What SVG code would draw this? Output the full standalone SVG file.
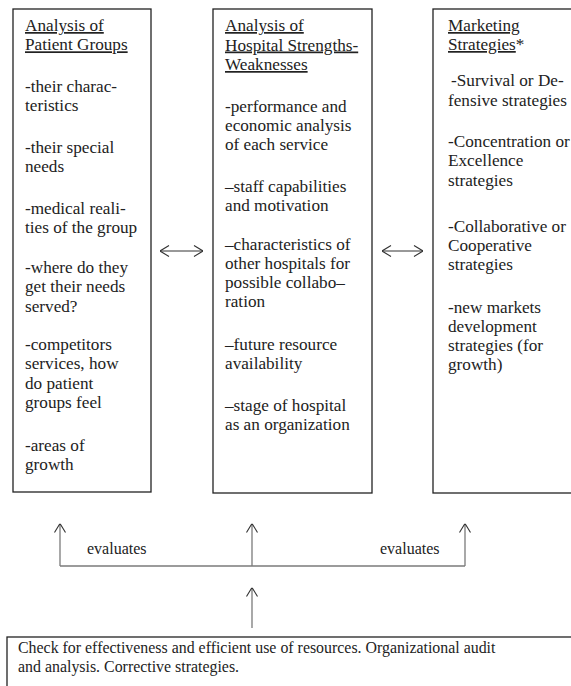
<svg xmlns="http://www.w3.org/2000/svg" width="571" height="686" viewBox="0 0 571 686">
<style>
  .box { fill: #fff; stroke: #222; stroke-width: 1.3; }
  .t { font-family: "Liberation Serif", "Times New Roman", serif; font-size: 17.2px; fill: #222; }
  .u { text-decoration: underline; }
  .lbl { font-family: "Liberation Serif", "Times New Roman", serif; font-size: 16px; fill: #222; }
  .conn { fill: none; stroke: #7a7a7a; stroke-width: 1.3; }
  .dbl { fill: none; stroke: #333; stroke-width: 1; }
</style>
<defs>
  <marker id="open" viewBox="0 0 10 12" refX="10" refY="6" markerWidth="10" markerHeight="12" markerUnits="userSpaceOnUse" orient="auto-start-reverse">
    <path d="M1,0.5 L10,6 L1,11.5" fill="none" stroke="#333" stroke-width="1.1"/>
  </marker>
</defs>
<rect width="571" height="686" fill="#fff"/>

<g id="patient-groups">
  <rect class="box" x="13" y="9" width="138" height="483"/>
  <text class="t" x="25">
    <tspan class="u" x="25" y="31">Analysis of</tspan>
    <tspan class="u" x="25" y="50.3">Patient Groups</tspan>
    <tspan x="25" y="92">-their charac-</tspan>
    <tspan x="25" y="111.3">teristics</tspan>
    <tspan x="25" y="153">-their special</tspan>
    <tspan x="25" y="172.3">needs</tspan>
    <tspan x="25" y="214">-medical reali-</tspan>
    <tspan x="25" y="233.3">ties of the group</tspan>
    <tspan x="25" y="273">-where do they</tspan>
    <tspan x="25" y="292.3">get their needs</tspan>
    <tspan x="25" y="311.6">served?</tspan>
    <tspan x="25" y="350">-competitors</tspan>
    <tspan x="25" y="369.3">services, how</tspan>
    <tspan x="25" y="388.6">do patient</tspan>
    <tspan x="25" y="408">groups feel</tspan>
    <tspan x="25" y="451">-areas of</tspan>
    <tspan x="25" y="470.3">growth</tspan>
  </text>
</g>

<g id="hospital-strengths">
  <rect class="box" x="213" y="9" width="159" height="484"/>
  <text class="t">
    <tspan class="u" x="225" y="31">Analysis of</tspan>
    <tspan class="u" x="225" y="50.5">Hospital Strengths-</tspan>
    <tspan class="u" x="225" y="70">Weaknesses</tspan>
    <tspan x="225" y="112">-performance and</tspan>
    <tspan x="225" y="131">economic analysis</tspan>
    <tspan x="225" y="150">of each service</tspan>
    <tspan x="225" y="192">–staff capabilities</tspan>
    <tspan x="225" y="211">and motivation</tspan>
    <tspan x="225" y="250">–characteristics of</tspan>
    <tspan x="225" y="269">other hospitals for</tspan>
    <tspan x="225" y="288">possible collabo–</tspan>
    <tspan x="225" y="307">ration</tspan>
    <tspan x="225" y="350">–future resource</tspan>
    <tspan x="225" y="369">availability</tspan>
    <tspan x="225" y="411">–stage of hospital</tspan>
    <tspan x="225" y="430">as an organization</tspan>
  </text>
</g>

<g id="marketing-strategies">
  <rect class="box" x="433" y="9" width="150" height="484"/>
  <text class="t">
    <tspan class="u" x="448" y="31">Marketing</tspan>
    <tspan x="448" y="50"><tspan class="u">Strategies</tspan>*</tspan>
    <tspan x="451" y="86">-Survival or De-</tspan>
    <tspan x="448" y="105.5">fensive strategies</tspan>
    <tspan x="448" y="147">-Concentration or</tspan>
    <tspan x="448" y="166.3">Excellence</tspan>
    <tspan x="448" y="185.6">strategies</tspan>
    <tspan x="448" y="232">-Collaborative or</tspan>
    <tspan x="448" y="251">Cooperative</tspan>
    <tspan x="448" y="270">strategies</tspan>
    <tspan x="448" y="313">-new markets</tspan>
    <tspan x="448" y="332">development</tspan>
    <tspan x="448" y="351">strategies (for</tspan>
    <tspan x="448" y="370">growth)</tspan>
  </text>
</g>

<g id="check-effectiveness">
  <rect class="box" x="7" y="637" width="580" height="60"/>
  <text class="t" style="font-size:15.9px">
    <tspan x="18" y="653">Check for effectiveness and efficient use of resources. Organizational audit</tspan>
    <tspan x="18" y="672">and analysis. Corrective strategies.</tspan>
  </text>
</g>

<g id="connectors">
  <line class="dbl" x1="160" y1="251" x2="203" y2="251" marker-start="url(#open)" marker-end="url(#open)"/>
  <line class="dbl" x1="382" y1="251" x2="423" y2="251" marker-start="url(#open)" marker-end="url(#open)"/>
  <polyline class="conn" points="60,566 465,566"/>
  <line class="conn" x1="60" y1="566" x2="60" y2="523.5" marker-end="url(#open)"/>
  <line class="conn" x1="252" y1="566" x2="252" y2="523.5" marker-end="url(#open)"/>
  <line class="conn" x1="465" y1="566" x2="465" y2="523.5" marker-end="url(#open)"/>
  <line class="conn" x1="252" y1="628" x2="252" y2="587.5" marker-end="url(#open)"/>
  <text class="lbl" x="87" y="554">evaluates</text>
  <text class="lbl" x="380" y="554">evaluates</text>
</g>
</svg>
